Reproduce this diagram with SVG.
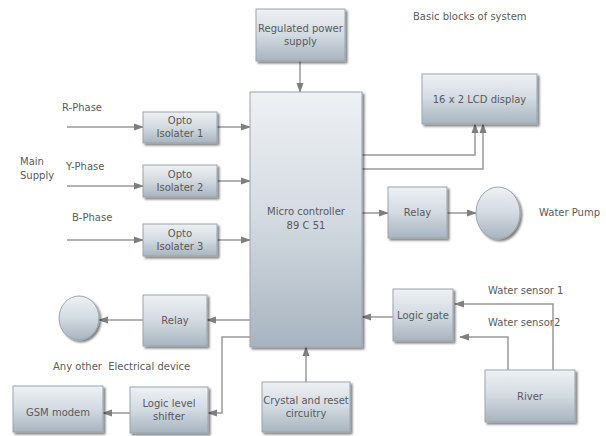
<svg xmlns="http://www.w3.org/2000/svg" width="606" height="436" viewBox="0 0 606 436">
<defs>
<linearGradient id="g" x1="0" y1="0" x2="0" y2="1">
<stop offset="0" stop-color="#eef1f4"/>
<stop offset="0.5" stop-color="#d3dae1"/>
<stop offset="1" stop-color="#a7b4bf"/>
</linearGradient>
<filter id="sh" x="-10%" y="-10%" width="130%" height="130%">
<feGaussianBlur in="SourceAlpha" stdDeviation="1.2"/>
<feOffset dx="2" dy="2" result="b"/>
<feComponentTransfer><feFuncA type="linear" slope="0.5"/></feComponentTransfer>
<feMerge><feMergeNode/><feMergeNode in="SourceGraphic"/></feMerge>
</filter>
<marker id="ah" markerWidth="10" markerHeight="8" refX="9" refY="4" orient="auto" markerUnits="userSpaceOnUse">
<path d="M0,0.5 L10,4 L0,7.5 z" fill="#7f7f7f"/>
</marker>
</defs>
<style>
.box{fill:url(#g);stroke:#9aa4ad;stroke-width:1;filter:url(#sh)}
.t{font-family:"DejaVu Sans",Verdana,sans-serif;font-size:10px;fill:#5a5a5a;text-anchor:middle}
.l{font-family:"DejaVu Sans",Verdana,sans-serif;font-size:10px;fill:#5a5a5a}
.c{fill:none;stroke:#999;stroke-width:1.5;marker-end:url(#ah)}
</style>
<rect width="606" height="436" fill="#fff"/>
<text class="l" x="413" y="20">Basic blocks of system</text>
<text class="l" x="62" y="111">R-Phase</text>
<text class="l" x="66" y="170">Y-Phase</text>
<text class="l" x="20" y="165">Main</text>
<text class="l" x="20" y="179">Supply</text>
<text class="l" x="72" y="221">B-Phase</text>
<text class="l" x="539" y="216">Water Pump</text>
<text class="l" x="53" y="370">Any other&#160; Electrical device</text>
<text class="l" x="488" y="294">Water sensor 1</text>
<text class="l" x="488" y="326">Water sensor2</text>
<g id="connectors">
<path class="c" d="M300,61 V92"/>
<path class="c" d="M67,127 H143"/>
<path class="c" d="M67,186 H143"/>
<path class="c" d="M67,240 H143"/>
<path class="c" d="M217,127 H250"/>
<path class="c" d="M217,181 H250"/>
<path class="c" d="M217,240 H250"/>
<path class="c" d="M362,155 H475 V124"/>
<path class="c" d="M362,169 H483 V124"/>
<path class="c" d="M362,213 H388"/>
<path class="c" d="M447,213 H476"/>
<path class="c" d="M250,320 H207"/>
<path class="c" d="M143,320 H99"/>
<path class="c" d="M250,337 H222 V413 H208"/>
<path class="c" d="M130,413 H103"/>
<path class="c" d="M306,382 V347"/>
<path class="c" d="M393,317 H362"/>
<path class="c" d="M553,370 V304 H455"/>
<path class="c" d="M508,370 V337 H460"/>
</g>
<g id="power"><rect class="box" x="256" y="9" width="89" height="52"/><text class="t" x="300.5" y="32">Regulated power</text><text class="t" x="300.5" y="45">supply</text></g>
<g id="mcu"><rect class="box" x="250" y="92" width="112" height="255"/><text class="t" x="306" y="215">Micro controller</text><text class="t" x="306" y="229">89 C 51</text></g>
<g id="opto1"><rect class="box" x="143" y="112" width="74" height="31"/><text class="t" x="180" y="124">Opto</text><text class="t" x="180" y="137">Isolater 1</text></g>
<g id="opto2"><rect class="box" x="143" y="165" width="74" height="32"/><text class="t" x="180" y="178">Opto</text><text class="t" x="180" y="191">Isolater 2</text></g>
<g id="opto3"><rect class="box" x="143" y="224" width="74" height="32"/><text class="t" x="180" y="237">Opto</text><text class="t" x="180" y="250">Isolater 3</text></g>
<g id="lcd"><rect class="box" x="422" y="74" width="115" height="50"/><text class="t" x="479.5" y="103">16 x 2 LCD display</text></g>
<g id="relay1"><rect class="box" x="388" y="187" width="59" height="51"/><text class="t" x="417.5" y="216">Relay</text></g>
<g id="pump"><ellipse class="box" cx="498" cy="213" rx="22" ry="26"/></g>
<g id="relay2"><rect class="box" x="143" y="295" width="64" height="51"/><text class="t" x="175" y="324">Relay</text></g>
<g id="device"><ellipse class="box" cx="79" cy="318" rx="20" ry="22"/></g>
<g id="shifter"><rect class="box" x="130" y="387" width="78" height="46"/><text class="t" x="169" y="407">Logic level</text><text class="t" x="169" y="420">shifter</text></g>
<g id="gsm"><rect class="box" x="13" y="386" width="90" height="46"/><text class="t" x="58" y="416">GSM modem</text></g>
<g id="crystal"><rect class="box" x="262" y="382" width="88" height="50"/><text class="t" x="306" y="404">Crystal and reset</text><text class="t" x="306" y="417">circuitry</text></g>
<g id="logicgate"><rect class="box" x="393" y="289" width="60" height="52"/><text class="t" x="423" y="319">Logic gate</text></g>
<g id="river"><rect class="box" x="485" y="370" width="90" height="52"/><text class="t" x="530" y="400">River</text></g>
</svg>
